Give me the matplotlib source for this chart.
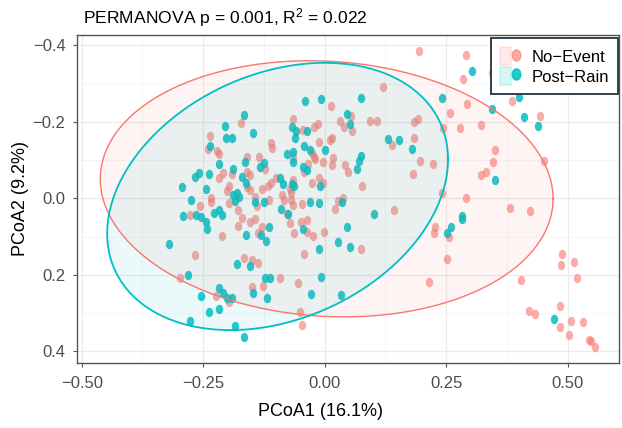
import numpy as np
import matplotlib.pyplot as plt
from matplotlib.path import Path
from matplotlib.patches import Rectangle
from matplotlib.lines import Line2D
from matplotlib.legend_handler import HandlerTuple

plt.rcParams['font.family'] = ['Liberation Sans', 'DejaVu Sans']
plt.rcParams['mathtext.fontset'] = 'custom'
plt.rcParams['mathtext.rm'] = 'Liberation Sans'
plt.rcParams['mathtext.it'] = 'Liberation Sans:italic'

# PCoA scores, No-Event samples
no_event_x = [0.194, 0.290, 0.344, 0.284, 0.385, 0.292, 0.258, 0.443, 0.192, 0.184,
              0.243, 0.278, 0.322, 0.350, 0.347, 0.451, 0.196, 0.222, 0.322, 0.331,
              0.241, 0.290, 0.381, 0.422, 0.227, 0.225, 0.256, 0.252, 0.215, 0.488,
              0.486, 0.513, 0.519, 0.404, 0.421, 0.433, 0.485, 0.506, 0.532, 0.484,
              0.503, 0.544, 0.548, 0.556, 0.182, 0.184, 0.139, 0.120, 0.143, 0.076,
              0.012, -0.065, 0.054, 0.032, 0.040, 0.056, 0.094, 0.107, -0.045, -0.023,
              -0.014, -0.012, 0.011, 0.015, -0.111, -0.108, -0.026, -0.066, -0.023, -0.020,
              -0.003, 0.016, 0.014, -0.034, -0.043, 0.042, 0.047, -0.135, -0.123, -0.154,
              -0.111, -0.116, -0.100, -0.130, -0.071, -0.066, -0.069, -0.026, -0.011, -0.004,
              -0.088, -0.084, -0.144, 0.038, 0.028, -0.066, -0.070, -0.115, -0.140, -0.046,
              0.021, -0.078, -0.071, -0.049, -0.036, -0.063, -0.036, -0.025, -0.001, 0.074,
              -0.042, -0.150, -0.137, -0.143, -0.130, -0.137, -0.154, -0.092, -0.056, -0.128,
              -0.150, -0.051, -0.047, -0.154, -0.173, -0.237, -0.240, -0.221, -0.217, -0.160,
              -0.191, -0.210, -0.217, -0.159, -0.160, -0.197, -0.202, -0.233, -0.233, -0.257,
              -0.196, -0.178, -0.171, -0.277, -0.179, -0.212, -0.267, -0.167, -0.298, -0.224,
              -0.198]
no_event_y = [-0.385, -0.376, -0.328, -0.311, -0.255, -0.246, -0.224, -0.215, -0.207, -0.199,
              -0.183, -0.185, -0.193, -0.126, -0.095, -0.098, -0.098, -0.089, -0.061, -0.068,
              -0.013, -0.001, 0.024, 0.033, 0.074, 0.091, 0.102, 0.159, 0.219, 0.146,
              0.174, 0.166, 0.209, 0.214, 0.294, 0.301, 0.282, 0.320, 0.323, 0.337,
              0.357, 0.369, 0.372, 0.389, -0.064, -0.159, -0.139, -0.290, 0.031, -0.032,
              -0.242, -0.207, -0.216, -0.203, -0.186, -0.177, -0.203, -0.203, -0.180, -0.186,
              -0.194, -0.148, -0.152, -0.158, -0.145, -0.131, -0.119, -0.106, -0.107, -0.102,
              -0.096, -0.106, -0.088, -0.091, -0.068, -0.087, -0.070, -0.107, -0.076, -0.060,
              -0.041, -0.033, -0.052, -0.024, -0.024, -0.048, -0.014, -0.041, -0.054, -0.039,
              -0.009, 0.004, -0.004, 0.000, 0.007, 0.018, 0.003, 0.004, 0.020, 0.014,
              0.029, 0.041, 0.065, 0.061, 0.056, 0.091, 0.087, 0.098, 0.087, 0.131,
              0.146, 0.161, 0.170, 0.055, 0.074, 0.090, 0.061, 0.207, 0.221, 0.228,
              0.231, 0.298, 0.331, -0.022, -0.196, -0.164, -0.129, -0.124, -0.116, -0.109,
              -0.065, -0.067, -0.052, -0.070, -0.029, -0.032, -0.019, 0.000, 0.010, 0.020,
              0.013, 0.031, 0.052, 0.044, 0.073, 0.099, 0.148, 0.156, 0.209, 0.255,
              0.270]

# PCoA scores, Post-Rain samples
post_rain_x = [0.302, 0.241, 0.400, 0.344, 0.410, 0.439, 0.350, 0.282, 0.282, 0.260,
               0.251, 0.471, 0.179, -0.040, -0.008, 0.074, 0.046, 0.051, -0.147, -0.068,
               -0.060, -0.036, -0.061, -0.043, -0.030, 0.001, -0.078, -0.065, -0.065, -0.045,
               -0.037, 0.074, 0.070, 0.066, 0.131, 0.153, -0.133, -0.125, -0.092, -0.086,
               -0.067, -0.064, -0.010, 0.101, 0.045, 0.036, -0.011, -0.030, -0.090, -0.076,
               -0.044, -0.115, -0.143, -0.126, -0.132, -0.121, -0.154, 0.028, 0.052, -0.012,
               -0.123, -0.113, -0.008, -0.147, -0.118, -0.029, 0.033, -0.166, -0.205, -0.203,
               -0.191, -0.236, -0.218, -0.165, -0.188, -0.238, -0.258, -0.267, -0.171, -0.162,
               -0.189, -0.181, -0.185, -0.177, -0.244, -0.293, -0.276, -0.228, -0.217, -0.211,
               -0.291, -0.265, -0.255, -0.245, -0.243, -0.162, -0.320, -0.180, -0.281, -0.218,
               -0.209, -0.202, -0.190, -0.255, -0.217, -0.239, -0.277, -0.185, -0.166]
post_rain_y = [-0.334, -0.263, -0.264, -0.233, -0.213, -0.190, -0.048, 0.046, 0.055, 0.076,
               0.091, 0.315, -0.129, -0.254, -0.259, -0.262, -0.220, -0.194, -0.172, -0.186,
               -0.177, -0.177, -0.157, -0.137, -0.126, -0.126, -0.116, -0.120, -0.094, -0.083,
               -0.074, -0.111, -0.098, -0.078, -0.154, -0.152, -0.083, -0.093, -0.054, -0.038,
               -0.037, -0.032, -0.033, 0.040, 0.075, 0.010, 0.012, 0.010, 0.027, 0.041,
               0.080, 0.076, 0.010, 0.010, 0.096, 0.111, 0.177, 0.113, 0.127, 0.133,
               0.209, 0.209, 0.205, 0.248, 0.261, 0.249, 0.253, -0.218, -0.189, -0.158,
               -0.157, -0.137, -0.091, -0.094, -0.078, -0.064, -0.067, -0.056, -0.056, -0.041,
               -0.010, -0.013, 0.006, -0.004, -0.024, -0.029, 0.004, 0.037, 0.031, 0.044,
               0.045, 0.044, 0.048, 0.063, 0.080, 0.096, 0.119, 0.172, 0.201, 0.234,
               0.247, 0.261, 0.260, 0.254, 0.288, 0.297, 0.320, 0.334, 0.362]

# 95% ellipses: centre and shape matrix (var x, cov xy, var y)
no_event_centre = (0.004, -0.025)
no_event_shape = (0.217, 0.012, 0.112)
post_rain_centre = (-0.097, -0.005)
post_rain_shape = (0.123, -0.034, 0.122)

RED = '#F8766D'
TEAL = '#00BFC4'


def ellipse_xy(centre, shape, n=300):
    m = np.array([[shape[0], shape[1]], [shape[1], shape[2]]])
    chol = np.linalg.cholesky(m)
    t = np.linspace(0, 2 * np.pi, n)
    pts = chol @ np.vstack([np.cos(t), np.sin(t)])
    return centre[0] + pts[0], centre[1] + pts[1]


# slightly tall oval marker, like the original
t = np.linspace(0, 2 * np.pi, 40)
oval = Path(np.column_stack([0.78 * np.cos(t), np.sin(t)]))

fig = plt.figure(figsize=(6.22, 4.28), dpi=100)
ax = fig.add_axes([0.1232, 0.153, 0.872, 0.7652])

ax.scatter(no_event_x, no_event_y, s=46, marker=oval, color=RED, alpha=0.6, lw=0, zorder=3)
ax.scatter(post_rain_x, post_rain_y, s=46, marker=oval, color=TEAL, alpha=0.85, lw=0, zorder=3)

for centre, shape, col, lw in [(no_event_centre, no_event_shape, RED, 1.0),
                               (post_rain_centre, post_rain_shape, TEAL, 1.3)]:
    ex, ey = ellipse_xy(centre, shape)
    ax.fill(ex, ey, color=col, alpha=0.08, lw=0, zorder=4)
    ax.plot(ex, ey, color=col, lw=lw, zorder=5)

ax.set_xlim(-0.5105, 0.6055)
ax.set_ylim(0.429, -0.427)
ax.set_xticks([-0.5, -0.25, 0, 0.25, 0.5])
ax.set_xticklabels(['\u22120.50', '\u22120.25', '0.00', '0.25', '0.50'])
ax.set_yticks([-0.4, -0.2, 0, 0.2, 0.4])
ax.set_yticklabels(['\u22120.4', '\u22120.2', '0.0', '0.2', '0.4'])
ax.set_xticks([-0.375, -0.125, 0.125, 0.375], minor=True)
ax.set_yticks([-0.3, -0.1, 0.1, 0.3], minor=True)
ax.grid(which='major', color='#EBEBEB', lw=0.9)
ax.grid(which='minor', color='#F2F2F2', lw=0.5)
ax.set_axisbelow(True)
ax.tick_params(which='major', length=3, width=0.8, color='#555555',
               labelcolor='#4D4D4D', labelsize=12, pad=5)
ax.tick_params(which='minor', length=0)
ax.tick_params(axis='x', pad=7)
for sp in ax.spines.values():
    sp.set_color('#555555')
    sp.set_linewidth(1.0)

fig.text(83 / 622, 1 - 18 / 428, 'PERMANOVA p = 0.001, R$^2$ = 0.022',
         fontsize=12.6, ha='left', va='center')
fig.text(320 / 622, 1 - 411 / 428, 'PCoA1 (16.1%)', fontsize=13, ha='center', va='center')
fig.text(21 / 622, 1 - 198 / 428, 'PCoA2 (9.2%)', fontsize=13, ha='center', va='center',
         rotation=90)

handles = [(Rectangle((0, 0), 1, 1, facecolor=RED, alpha=0.15, edgecolor=RED, lw=1.2),
            Line2D([], [], ls='none', marker=oval, ms=8, color=RED, alpha=0.6)),
           (Rectangle((0, 0), 1, 1, facecolor=TEAL, alpha=0.15, edgecolor=TEAL, lw=1.2),
            Line2D([], [], ls='none', marker=oval, ms=8, color=TEAL, alpha=0.85))]
leg = ax.legend(handles, ['No\u2212Event', 'Post\u2212Rain'],
                handler_map={tuple: HandlerTuple(ndivide=None, pad=0)},
                loc='upper right', bbox_to_anchor=(618 / 622, 1 - 38 / 428),
                bbox_transform=fig.transFigure, borderaxespad=0, fontsize=12,
                handlelength=1.3, handleheight=1.3, handletextpad=0.6,
                labelspacing=0.1, borderpad=0.55, fancybox=False, framealpha=1)
leg.get_frame().set_edgecolor('#1F3340')
leg.get_frame().set_linewidth(1.3)
leg.set_zorder(10)

fig.savefig('out.png', dpi=100)
